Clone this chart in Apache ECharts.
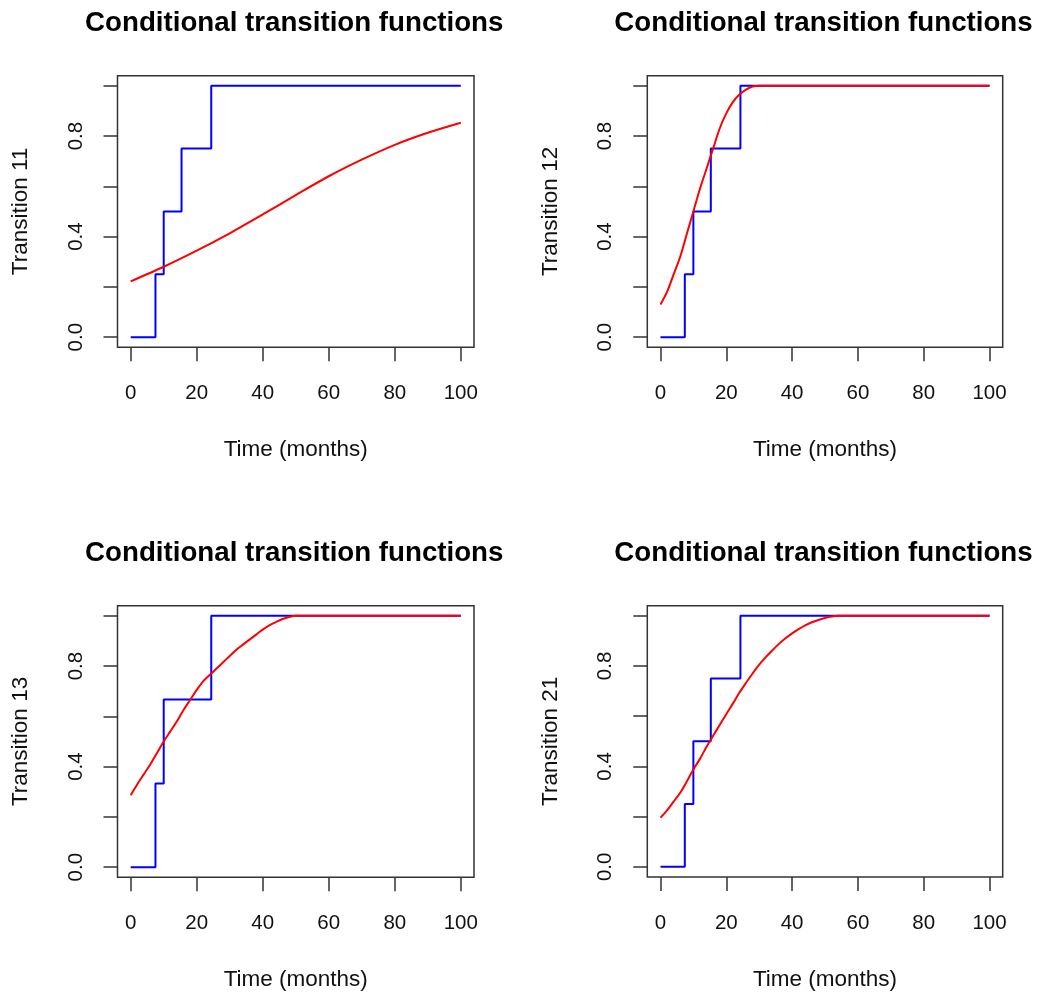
<!DOCTYPE html>
<html>
<head>
<meta charset="utf-8">
<script src="https://cdn.jsdelivr.net/npm/echarts@6/dist/echarts.min.js"></script>
<style>html,body{margin:0;padding:0;background:#fff}#c{width:1038px;height:994px}</style>
</head>
<body>
<div id="c"></div>
<script>
const titleText = "Conditional transition functions";
const xName = "Time (months)";
const yNames = ["Transition 11", "Transition 12", "Transition 13", "Transition 21"];
const xTicks = [0, 20, 40, 60, 80, 100];
const yTicks = [0, 0.2, 0.4, 0.6, 0.8, 1.0];
const yLabels = [0, 0.4, 0.8];

// Empirical (blue step) functions: [time, value after time]
const step11 = [[0, 0], [7.5, 0.25], [10, 0.5], [15.4, 0.75], [24.4, 1], [100, 1]];
const step12 = [[0, 0], [7.4, 0.25], [10, 0.5], [15.3, 0.75], [24.3, 1], [100, 1]];
const step13 = [[0, 0], [7.5, 0.333], [10, 0.667], [24.4, 1], [100, 1]];
const step21 = [[0, 0], [7.4, 0.25], [10, 0.5], [15.3, 0.75], [24.3, 1], [100, 1]];

// Model (red) curves
const curve11 = [[0, 0.222], [10, 0.28], [20, 0.344], [30, 0.413], [40, 0.488], [50, 0.565], [60, 0.64], [70, 0.706], [80, 0.765], [90, 0.813], [100, 0.853]];
const curve12 = [[0, 0.13], [2, 0.18], [4, 0.25], [6, 0.32], [8, 0.41], [10, 0.5], [12, 0.59], [14, 0.67], [16, 0.75], [18, 0.83], [20, 0.89], [22, 0.935], [24, 0.965], [26, 0.985], [28, 0.997], [30, 1.0], [100, 1.0]];
const curve13 = [[0, 0.286], [2, 0.33], [4, 0.37], [6, 0.41], [8, 0.455], [10, 0.5], [12, 0.54], [14, 0.58], [16, 0.625], [18, 0.665], [20, 0.705], [22, 0.74], [24, 0.765], [26, 0.79], [28, 0.815], [30, 0.84], [32, 0.865], [34, 0.885], [36, 0.905], [38, 0.925], [40, 0.945], [42, 0.962], [44, 0.975], [46, 0.987], [48, 0.995], [50, 1.0], [100, 1.0]];
const curve21 = [[0, 0.196], [2, 0.225], [4, 0.26], [6, 0.295], [8, 0.34], [10, 0.388], [12, 0.43], [14, 0.478], [16, 0.522], [18, 0.565], [20, 0.608], [22, 0.65], [24, 0.694], [26, 0.733], [28, 0.77], [30, 0.805], [32, 0.835], [34, 0.862], [36, 0.888], [38, 0.91], [40, 0.93], [42, 0.947], [44, 0.962], [46, 0.974], [48, 0.983], [50, 0.991], [52, 0.997], [54, 1.0], [100, 1.0]];

const steps = [step11, step12, step13, step21];
const curves = [curve11, curve12, curve13, curve21];

const FONT = "'Liberation Sans', Arial, sans-serif";
const panels = [
  {left: 117.5, top: 75.7, width: 356.5, height: 271.5},
  {left: 647.3, top: 75.7, width: 355.4, height: 271.5},
  {left: 117.5, top: 605.7, width: 356.5, height: 271.5},
  {left: 647.3, top: 605.7, width: 355.4, height: 271.2}
];

const grid = [], xAxis = [], yAxis = [], series = [], title = [];
panels.forEach((p, i) => {
  grid.push({left: p.left, top: p.top, width: p.width, height: p.height, show: true,
    borderColor: '#333', borderWidth: 1.5, backgroundColor: 'transparent', containLabel: false});
  title.push({text: titleText, left: p.left + p.width / 2 - 1.5, top: p.top - 66, textAlign: 'center', padding: 0,
    textStyle: {fontFamily: FONT, fontWeight: 'bold', fontSize: 27.7, color: '#000'}});
  xAxis.push({type: 'value', gridIndex: i, min: -4, max: 104,
    name: xName, nameLocation: 'middle', nameGap: 91,
    nameTextStyle: {fontFamily: FONT, fontSize: 22.5, color: '#111'},
    axisLine: {show: false, onZero: false},
    splitLine: {show: false},
    axisTick: {show: true, inside: false, length: 14, customValues: xTicks, lineStyle: {color: '#333', width: 1.5}},
    axisLabel: {show: true, customValues: xTicks, margin: 36, fontFamily: FONT, fontSize: 20.5, color: '#111'}
  });
  yAxis.push({type: 'value', gridIndex: i, min: -0.04, max: 1.04,
    name: yNames[i], nameLocation: 'middle', nameRotate: 90, nameGap: 85,
    nameTextStyle: {fontFamily: FONT, fontSize: 22.5, color: '#111'},
    axisLine: {show: false, onZero: false},
    splitLine: {show: false},
    axisTick: {show: true, inside: false, length: 14, customValues: yTicks, lineStyle: {color: '#333', width: 1.5}},
    axisLabel: {show: true, customValues: yLabels, rotate: 90, margin: 31, fontFamily: FONT, fontSize: 20.5, color: '#111',
      formatter: v => Number(v).toFixed(1)}
  });
  series.push({type: 'line', xAxisIndex: i, yAxisIndex: i, data: steps[i], step: 'end', symbol: 'none',
    lineStyle: {color: '#0000ff', width: 2}, animation: false, z: 2});
  series.push({type: 'line', xAxisIndex: i, yAxisIndex: i, data: curves[i], smooth: 0.3, symbol: 'none',
    lineStyle: {color: '#ff0000', width: 2}, animation: false, z: 3});
});

const chart = echarts.init(document.getElementById('c'), null, {renderer: 'canvas'});
chart.setOption({animation: false, backgroundColor: '#fff', title, grid, xAxis, yAxis, series});
</script>
</body>
</html>
